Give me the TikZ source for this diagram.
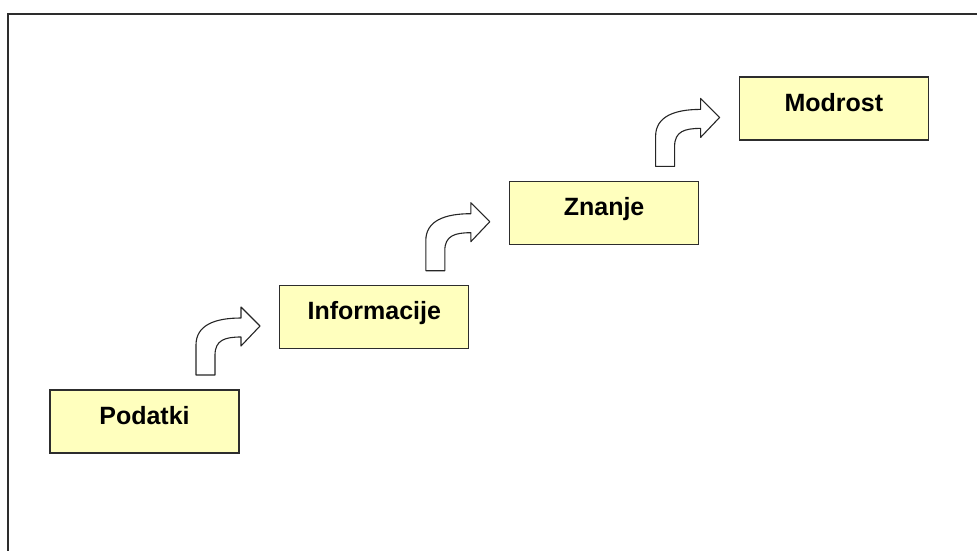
\documentclass[tikz,border=0pt]{standalone}
\usepackage{fontspec}
\setmainfont{Liberation Sans}
\definecolor{boxfill}{RGB}{255,255,190}
\definecolor{edge}{RGB}{45,45,45}
\tikzset{
  level/.style={draw=edge, line width=1.3pt, fill=boxfill,
    minimum width=189pt, minimum height=63pt, inner sep=0pt,
    text height=12pt, text depth=7pt,
    font=\bfseries\fontsize{25}{30}\selectfont},
  bendshape/.style={draw=black!85, line width=1.1pt, fill=white, line join=round},
  bentarrow/.pic={
    \draw[bendshape] (0,0) -- (0,-30)
      .. controls (0,-50) and (19,-57) .. (45,-57)
      -- (45,-68) -- (64,-49) -- (45,-29) -- (45,-38)
      .. controls (29,-38) and (19,-35) .. (19,-20)
      -- (19,0) -- cycle;
  }
}
\begin{document}
\begin{tikzpicture}[x=1pt,y=-1pt]
\useasboundingbox (0,0) rectangle (977,550);
% open frame: left and top sides only
\draw[line width=2pt, edge] (7.5,560) -- (7.5,14) -- (990,14);

% the four levels, one step up and to the right each time
\node[level] (podatki)     at (144.5,421.5) {Podatki};
\node[level] (informacije) at (374.3,317.2) {Informacije};
\node[level] (znanje)      at (604.1,212.9) {Znanje};
\node[level] (modrost)     at (833.9,108.6) {Modrost};

% bent arrows leading from each level to the next
\path (podatki.center)     ++(51.5,-46.5) pic {bentarrow};
\path (informacije.center) ++(51.5,-46.5) pic {bentarrow};
\path (znanje.center)      ++(51.5,-46.5) pic {bentarrow};
\end{tikzpicture}
\end{document}
